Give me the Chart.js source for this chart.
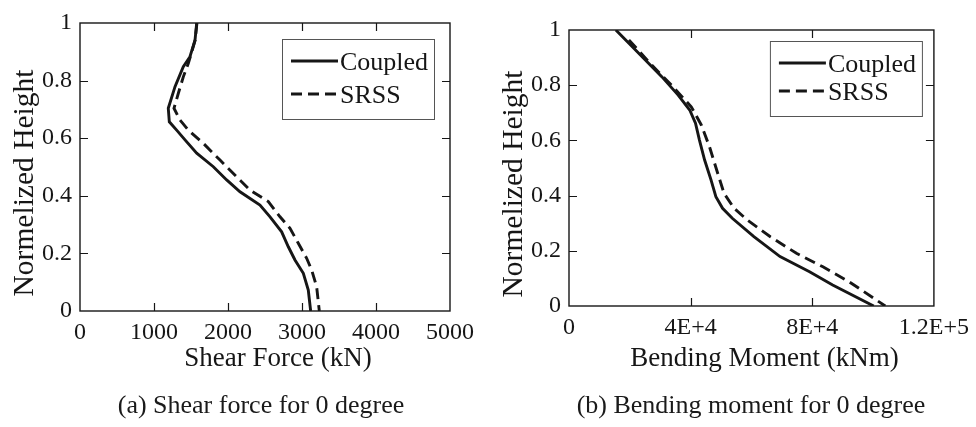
<!DOCTYPE html>
<html>
<head>
<meta charset="utf-8">
<script src="https://cdn.jsdelivr.net/npm/chart.js@4"></script>
<style>
  html, body { margin: 0; padding: 0; background: #fff; }
  #page { position: relative; width: 976px; height: 427px; overflow: hidden; }
  .panel { position: absolute; top: 0; width: 488px; height: 427px; }
  .caption {
    position: absolute; top: 392px; width: 488px; text-align: center;
    font: 26px/26px "Liberation Serif", serif; color: #1a1a1a;
  }
</style>
</head>
<body>
<div id="page">
  <div class="panel" style="left:0"><canvas id="shear" width="488" height="427"></canvas></div>
  <div class="panel" style="left:488px"><canvas id="moment" width="488" height="427"></canvas></div>
  <div class="caption" style="left:17px">(a) Shear force for 0 degree</div>
  <div class="caption" style="left:507px">(b) Bending moment for 0 degree</div>
</div>
<script>
// normalized height vs. shear force (kN)
const shearHeightCoupled = [1.0, 0.94, 0.883, 0.848, 0.779, 0.704, 0.657, 0.628, 0.594, 0.548, 0.501, 0.455, 0.414, 0.368, 0.327, 0.275, 0.223, 0.177, 0.131, 0.073, 0.0];
const shearCoupled = [1577, 1554, 1486, 1396, 1284, 1193, 1207, 1306, 1419, 1577, 1802, 1982, 2162, 2432, 2568, 2725, 2815, 2905, 3018, 3085, 3117];
const shearHeightSrss = [1.0, 0.94, 0.86, 0.813, 0.756, 0.704, 0.663, 0.628, 0.582, 0.524, 0.466, 0.42, 0.38, 0.327, 0.287, 0.235, 0.183, 0.142, 0.084, 0.0];
const shearSrss = [1580, 1556, 1464, 1396, 1329, 1270, 1351, 1464, 1667, 1892, 2117, 2297, 2545, 2703, 2838, 2950, 3063, 3131, 3198, 3234];

// normalized height vs. bending moment (kNm)
const momentHeightCoupled = [1.0, 0.952, 0.891, 0.831, 0.764, 0.71, 0.662, 0.601, 0.529, 0.457, 0.396, 0.354, 0.318, 0.251, 0.179, 0.124, 0.076, 0.0];
const momentCoupled = [15400, 19700, 25100, 30500, 35900, 39700, 41600, 42900, 44600, 46700, 48300, 50500, 53700, 60800, 69400, 79100, 86700, 100200];
const momentHeightSrss = [0.964, 0.873, 0.8, 0.722, 0.656, 0.577, 0.481, 0.408, 0.354, 0.312, 0.251, 0.191, 0.142, 0.088, 0.0];
const momentSrss = [19700, 27200, 33700, 40200, 43500, 46200, 48900, 51000, 54300, 58600, 66200, 74800, 83500, 92100, 104000];

const heightTicks = ['0', '0.2', '0.4', '0.6', '0.8', '1'];
const seriesNames = ['Coupled', 'SRSS'];
const yTitle = 'Normelized Height';

const ink = '#161616';
const serif = '"Liberation Serif", serif';

function points(xs, ys) {
  return xs.map((x, i) => ({ x: x, y: ys[i] }));
}

// box frame, inward tick marks, axis titles and the in-plot legend
const framePlugin = {
  id: 'frame',
  afterDraw(chart, args, opts) {
    const { ctx, chartArea: a, scales } = chart;
    ctx.save();
    ctx.strokeStyle = ink;
    ctx.lineWidth = 1.4;
    ctx.strokeRect(a.left, a.top, a.right - a.left, a.bottom - a.top);

    const len = 8;
    ctx.beginPath();
    scales.x.ticks.forEach(t => {
      const px = Math.round(scales.x.getPixelForValue(t.value)) + 0.5;
      if (px <= a.left + 1 || px >= a.right - 1) return;
      ctx.moveTo(px, a.bottom); ctx.lineTo(px, a.bottom - len);
      ctx.moveTo(px, a.top); ctx.lineTo(px, a.top + len);
    });
    scales.y.ticks.forEach(t => {
      const py = Math.round(scales.y.getPixelForValue(t.value)) + 0.5;
      if (py <= a.top + 1 || py >= a.bottom - 1) return;
      ctx.moveTo(a.left, py); ctx.lineTo(a.left + len, py);
      ctx.moveTo(a.right, py); ctx.lineTo(a.right - len, py);
    });
    ctx.lineWidth = 1.2;
    ctx.stroke();

    // axis titles
    ctx.fillStyle = ink;
    ctx.font = '27px ' + serif;
    ctx.textAlign = 'center';
    ctx.textBaseline = 'alphabetic';
    ctx.fillText(opts.xTitle, (a.left + a.right) / 2 + 13, 366);
    ctx.save();
    ctx.translate(a.left - 47, (a.top + a.bottom) / 2 + 16);
    ctx.rotate(-Math.PI / 2);
    ctx.font = '29.5px ' + serif;
    ctx.fillText(yTitle, 0, 0);
    ctx.restore();

    // legend
    const bw = 152, bh = opts.legendHeight;
    const bx = a.right - opts.legendRight - bw, by = a.top + opts.legendTop;
    ctx.strokeStyle = '#555';
    ctx.lineWidth = 1;
    ctx.strokeRect(bx + 0.5, by + 0.5, bw, bh);
    const rows = [by + 22, by + bh - 25];
    chart.data.datasets.forEach((ds, i) => {
      const ry = rows[i];
      ctx.beginPath();
      ctx.setLineDash(ds.borderDash || []);
      ctx.strokeStyle = ds.borderColor;
      ctx.lineWidth = ds.borderWidth;
      ctx.moveTo(bx + 9, ry); ctx.lineTo(bx + 56, ry);
      ctx.stroke();
      ctx.setLineDash([]);
      ctx.font = '26px ' + serif;
      ctx.textAlign = 'left';
      ctx.textBaseline = 'middle';
      ctx.fillStyle = ink;
      ctx.fillText(ds.label, bx + 58, ry + 2);
    });
    ctx.restore();
  }
};

function makeChart(id, coupled, srss, xMax, xStep, fmt, box, frame) {
  new Chart(document.getElementById(id), {
    type: 'scatter',
    data: {
      datasets: [
        { label: seriesNames[0], data: coupled, showLine: true, borderColor: ink, borderWidth: 2.9, pointRadius: 0, tension: 0 },
        { label: seriesNames[1], data: srss, showLine: true, borderColor: ink, borderWidth: 2.9, borderDash: [11, 6], pointRadius: 0, tension: 0 }
      ]
    },
    options: {
      responsive: false,
      animation: false,
      layout: { padding: { left: 0, top: box.top, right: box.right, bottom: 0 } },
      plugins: {
        legend: { display: false },
        tooltip: { enabled: false },
        frame: frame
      },
      scales: {
        x: {
          type: 'linear', min: 0, max: xMax,
          grid: { display: false, drawTicks: false },
          border: { display: false },
          afterFit(scale) { scale.height = box.xHeight; },
          ticks: { stepSize: xStep, padding: 7, color: ink, maxRotation: 0,
                   font: { family: serif, size: 24 }, callback: fmt }
        },
        y: {
          type: 'linear', min: 0, max: 1,
          grid: { display: false, drawTicks: false },
          border: { display: false },
          afterFit(scale) { scale.width = box.yWidth; },
          ticks: { stepSize: 0.2, padding: 8, color: ink,
                   font: { family: serif, size: 24 },
                   callback: (v) => heightTicks[Math.round(v * 5)] }
        }
      }
    },
    plugins: [framePlugin]
  });
}

makeChart('shear',
  points(shearCoupled, shearHeightCoupled),
  points(shearSrss, shearHeightSrss),
  5000, 1000,
  (v) => String(v),
  { top: 23, right: 38, xHeight: 116, yWidth: 80 },
  { xTitle: 'Shear Force (kN)', legendRight: 16, legendTop: 16, legendHeight: 80 });

makeChart('moment',
  points(momentCoupled, momentHeightCoupled),
  points(momentSrss, momentHeightSrss),
  120000, 40000,
  (v) => v === 0 ? '0' : v.toExponential().toUpperCase(),
  { top: 30, right: 38, xHeight: 121, yWidth: 81 },
  { xTitle: 'Bending Moment (kNm)', legendRight: 12, legendTop: 11, legendHeight: 75 });
</script>
</body>
</html>
